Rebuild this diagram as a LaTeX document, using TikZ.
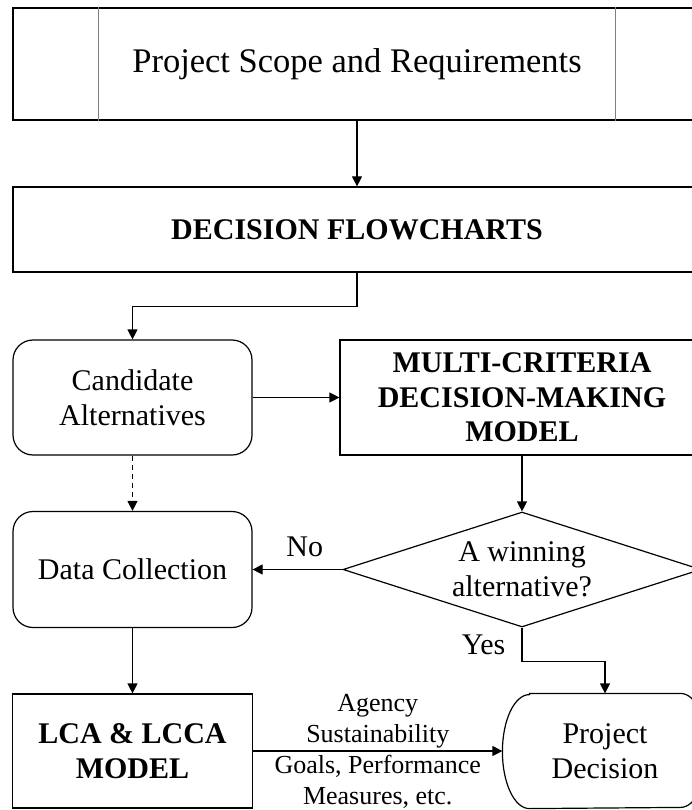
\documentclass[tikz,border=0pt]{standalone}
\usepackage{fontspec}
\setmainfont{Liberation Serif}
\usetikzlibrary{arrows.meta, shapes.geometric}

\begin{document}
\begin{tikzpicture}[
  x=1pt, y=1pt,
  box/.style={rectangle, draw, line width=1.2pt, inner sep=2pt, align=center,
    font=\fontsize{30}{34.5}\selectfont},
  boldbox/.style={box, font=\bfseries\fontsize{30}{34.5}\selectfont},
  roundbox/.style={box, rounded corners=20pt},
  decision/.style={diamond, draw, line width=1.2pt, inner sep=0pt, shape aspect=3.1,
    align=center, font=\fontsize{30}{34.5}\selectfont},
  flow/.style={-{Triangle[length=10pt, width=10pt]}, line width=1.2pt},
  lbl/.style={font=\fontsize{30}{34.5}\selectfont, inner sep=0pt},
  edgelbl/.style={align=center, font=\fontsize{26}{31}\selectfont, inner sep=0pt},
]
\useasboundingbox (0,0) rectangle (692,-810);
\clip (0,0) rectangle (692,-810);

% ---- top: scope (predefined process) and flowcharts ----
\node[box, minimum width=688pt, minimum height=112pt, font=\fontsize{34.5}{40}\selectfont]
  (scope) at (357,-64) {Project Scope and Requirements};
\draw[gray, line width=1.2pt] ([xshift=86pt]scope.north west) -- ([xshift=86pt]scope.south west);
\draw[gray, line width=1.2pt] ([xshift=-86pt]scope.north east) -- ([xshift=-86pt]scope.south east);
\node[boldbox, minimum width=688pt, minimum height=85pt] (flowcharts) at (357,-229.5) {DECISION FLOWCHARTS};

% ---- middle rows ----
\node[roundbox, minimum width=239pt, minimum height=115pt] (cand) at (132.5,-397.5) {Candidate\\Alternatives};
\node[boldbox, minimum width=364pt, minimum height=115pt] (mcdm) at (522,-397.5)
  {MULTI-CRITERIA\\DECISION-MAKING\\MODEL};
\node[roundbox, minimum width=239pt, minimum height=116pt] (collect) at (132.5,-569.5) {Data Collection};
\node[decision, minimum width=358pt, minimum height=115pt] (win) at (522,-569.5) {A winning\\alternative?};

% ---- bottom row ----
\node[boldbox, minimum width=240pt, minimum height=114pt] (lca) at (132.5,-751) {LCA \& LCCA\\MODEL};
\node[box, draw=none, minimum width=204pt, minimum height=114pt] (pd) at (605,-751) {Project\\Decision};
% terminator outline with flat elliptic ends
\draw[line width=1.2pt] ([xshift=27pt]pd.north west) -- ([xshift=-27pt]pd.north east)
  arc[start angle=90, end angle=-90, x radius=27pt, y radius=57pt]
  -- ([xshift=27pt]pd.south west)
  arc[start angle=270, end angle=90, x radius=27pt, y radius=57pt] -- cycle;

% ---- connectors ----
\draw[flow] (scope) -- (flowcharts);
\draw[flow] (flowcharts.south) -- ++(0,-34) -| (cand.north);
\draw[flow] (cand) -- (mcdm);
\draw[flow, dash pattern=on 5pt off 4pt] (cand) -- (collect);
\draw[flow] (mcdm) -- (win);
\draw[flow] (win.west) -- node[lbl, above=12pt, pos=0.42] {No} (collect.east);
\draw[flow] (win.south) -- node[lbl, left=16pt] {Yes} ++(0,-34) -| (pd.north);
\draw[flow] (collect) -- (lca);
\draw[flow] (lca) -- node[edgelbl] {Agency\\Sustainability\\Goals, Performance\\Measures, etc.} (pd);

\end{tikzpicture}
\end{document}
